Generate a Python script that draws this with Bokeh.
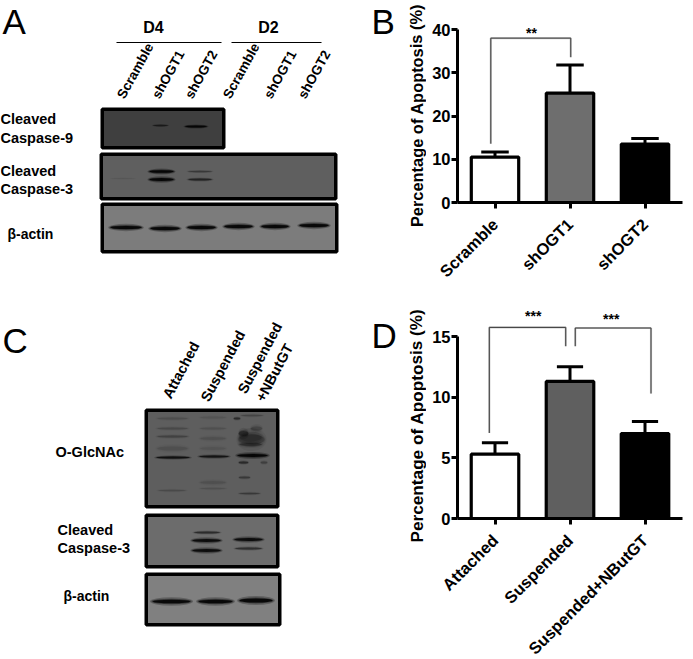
from math import radians
from bokeh.plotting import figure
from bokeh.layouts import row, column
from bokeh.models import Range1d, FixedTicker
from bokeh.core.properties import value
from bokeh.embed import file_html
from bokeh.resources import INLINE

FONT = "Liberation Sans"
SPLIT = 426  # left column width; the y titles and panel letters live in it

# ---- bar chart data ----
b_categories = ["Scramble", "shOGT1", "shOGT2"]
b_means = [10.5, 25.3, 13.5]
b_upper = [11.7, 31.8, 14.8]
b_colors = ["#ffffff", "#6e6e6e", "#000000"]
b_ticks = [0, 10, 20, 30, 40]

d_categories = ["Attached", "Suspended", "Suspended+NButGT"]
d_means = [5.3, 11.3, 7.0]
d_upper = [6.25, 12.5, 8.0]
d_colors = ["#ffffff", "#5f5f5f", "#000000"]
d_ticks = [0, 5, 10, 15]

y_title = "Percentage of Apoptosis (%)"

# ---- blot annotation text ----
a_lanes = ["Scramble", "shOGT1", "shOGT2", "Scramble", "shOGT1", "shOGT2"]
c_lanes = ["Attached", "Suspended", "Suspended", "+NButGT"]


def text(p, x, y, s, size, angle=0.0, align="left", bold=True):
    p.text([x], [y], text=[s], text_font=value(FONT), text_font_size=f"{size}px",
           text_font_style="bold" if bold else "normal", text_color="#000000",
           text_align=align, text_baseline="middle", angle=[radians(angle)])


def panel(p, x0, x1, y0, y1, fill, lw=3.5):
    p.quad(left=[x0 + lw / 2], right=[x1 - lw / 2], top=[y0 + lw / 2], bottom=[y1 - lw / 2],
           fill_color=fill, line_color="#000000", line_width=lw)


def band(p, x0, x1, y, h, dark, color="#000000"):
    """Soft blot band between x0..x1, centred on y, with darkness 0..1."""
    xc = (x0 + x1) / 2
    w = x1 - x0
    p.ellipse([xc], [y], width=[w * 1.08], height=[h * 2.3], fill_color=color,
              fill_alpha=dark * 0.25, line_color=None)
    p.ellipse([xc], [y], width=[w * 1.0], height=[h * 1.5], fill_color=color,
              fill_alpha=dark * 0.4, line_color=None)
    p.ellipse([xc], [y], width=[w * 0.94], height=[h], fill_color=color,
              fill_alpha=dark * 0.85, line_color=None)


def blot_fig(w, h, y_top):
    p = figure(width=w, height=h, x_range=Range1d(0, w), y_range=Range1d(y_top + h, y_top),
               output_backend="svg", toolbar_location=None, min_border=0)
    p.axis.visible = False
    p.grid.visible = False
    p.outline_line_color = None
    return p


def bar_fig(h, cats, means, upper, colors, ticks, ymax_axis, y_zero_px, x0_px, x1_px, y_origin):
    px_per = (y_zero_px - ymax_axis[1]) / ymax_axis[0]
    frame_top = y_origin + 3
    ymax = (y_zero_px - frame_top) / px_per
    p = figure(width=693 - SPLIT, height=h, x_range=Range1d(0, 3), y_range=Range1d(0, ymax),
               output_backend="svg", toolbar_location=None,
               min_border_left=x0_px - SPLIT, min_border_right=693 - x1_px,
               min_border_top=frame_top - y_origin, min_border_bottom=y_origin + h - y_zero_px)
    p.grid.visible = False
    p.outline_line_color = None
    xs = [i + 0.5 for i in range(len(cats))]
    unit_px = (x1_px - x0_px) / 3
    bw = (unit_px * 0.672 - 3) / unit_px
    cap = 27.5 / unit_px
    p.segment(xs, means, xs, upper, line_color="#000000", line_width=3)
    p.segment([x - cap / 2 for x in xs], upper, [x + cap / 2 for x in xs], upper,
              line_color="#000000", line_width=3)
    p.vbar(x=xs, top=means, bottom=0, width=bw, fill_color=colors, line_color="#000000",
           line_width=3.2)
    yax = p.yaxis[0]
    yax.ticker = FixedTicker(ticks=ticks)
    yax.bounds = (0, ticks[-1])
    xax = p.xaxis[0]
    xax.ticker = FixedTicker(ticks=xs)
    xax.major_label_overrides = {x: c for x, c in zip(xs, cats)}
    xax.major_label_orientation = radians(45)
    for ax in (xax, yax):
        ax.axis_line_width = 3
        ax.axis_line_color = "#000000"
        ax.major_tick_line_width = 3
        ax.major_tick_line_color = "#000000"
        ax.major_tick_out = 6
        ax.major_tick_in = 0
        ax.minor_tick_line_color = None
        ax.major_label_text_font = FONT
        ax.major_label_text_font_style = "bold"
        ax.major_label_text_font_size = "16.5px"
        ax.major_label_text_color = "#000000"
    xax.major_label_standoff = 13
    yax.major_label_standoff = 1
    return p


def bracket(p, x0, x1, level, y0, y1):
    p.line([x0, x0, x1, x1], [y0, level, level, y1], line_color="#c9c9c9", line_width=2.2)
    p.line([x0, x0, x1, x1], [y0, level, level, y1], line_color="#3a3a3a", line_width=1)


def stars(p, x, y, s):
    p.text([x], [y], text=[s], text_font=value(FONT), text_font_size="14px",
           text_font_style="bold", text_align="center", text_baseline="middle",
           text_color="#000000")


# ---------------- Panel A ----------------
A = blot_fig(SPLIT, 300, 0)
text(A, 2, 21, "A", 35, bold=False)
text(A, 153, 27, "D4", 16, align="center")
text(A, 268, 27, "D2", 16, align="center")
A.line([116, 221], [42, 42], line_color="#000000", line_width=1.2)
A.line([231, 321], [42, 42], line_color="#000000", line_width=1.2)
for x, s in zip([120, 155, 188, 226, 267, 301], a_lanes):
    text(A, x, 97, s, 13.5, angle=61)

text(A, 0, 118, "Cleaved", 14.5)
text(A, 0, 137, "Caspase-9", 14.5)
text(A, 0, 170, "Cleaved", 14.5)
text(A, 0, 188, "Caspase-3", 14.5)
text(A, 7, 233, "β-actin", 14)

panel(A, 100, 225, 107, 149, "#3f3f3f")
band(A, 152, 168, 125, 1.3, 0.5)
band(A, 184, 207, 126, 1.8, 0.95)

panel(A, 99, 337, 152, 200, "#5f5f5f")
band(A, 148, 174, 171, 2.6, 1.0)
band(A, 148, 174, 179, 2.8, 1.0)
band(A, 187, 212, 171, 1.4, 0.3)
band(A, 187, 212, 179, 1.8, 0.55)
band(A, 110, 135, 178, 1, 0.06)

panel(A, 100, 338, 202, 253, "#7c7c7c")
for x0, x1, y in [(109, 142, 227), (149, 180, 228), (186, 216, 227),
                  (223, 253, 226), (260, 289, 226), (298, 329, 225)]:
    band(A, x0, x1, y, 3.2, 1.0)

# y title and letter of panel B
text(A, 416, 115, y_title, 16.4, angle=90, align="center")
text(A, 371, 21, "B", 35, bold=False)

# ---------------- Panel C ----------------
C = blot_fig(SPLIT, 370, 300)
text(C, 2, 340, "C", 35, bold=False)
text(C, 166, 397, c_lanes[0], 14.5, angle=62)
text(C, 204, 400, c_lanes[1], 14.5, angle=62)
text(C, 241, 392, c_lanes[2], 14.5, angle=62)
text(C, 259, 400, c_lanes[3], 14.5, angle=62)
text(C, 55, 451, "O-GlcNAc", 14.5)
text(C, 57, 529, "Cleaved", 14.5)
text(C, 57, 547, "Caspase-3", 14.5)
text(C, 63, 595, "β-actin", 14)

panel(C, 144, 279, 408, 508, "#5e5e5e")
for x0, x1, y, h, d in [(156, 188, 418, 2, 0.12), (156, 188, 428, 2, 0.16), (156, 188, 436, 2, 0.22),
                        (156, 188, 448, 4, 0.1), (199, 226, 417, 2, 0.08), (199, 226, 428, 2, 0.1),
                        (199, 226, 438, 3, 0.1), (199, 226, 448, 3, 0.08), (157, 186, 490, 1.5, 0.15),
                        (199, 226, 482, 3, 0.1), (199, 226, 488, 1.5, 0.1),
                        (240, 263, 415, 1.5, 0.2), (233, 240, 418, 1.8, 0.45),
                        (237, 265, 439, 10, 0.25), (238, 262, 437, 8, 0.2),
                        (238, 248, 433, 5, 0.4), (250, 262, 428, 4, 0.2),
                        (238, 262, 444, 3, 0.3),
                        (238, 248, 462, 2, 0.45), (260, 267, 462, 2, 0.25), (238, 250, 477, 1.8, 0.3),
                        (238, 260, 493, 1.5, 0.3)]:
    band(C, x0, x1, y, h, d)
band(C, 155, 190, 457, 2, 0.8)
band(C, 198, 229, 456, 2, 0.75)
band(C, 236, 268, 455, 3, 1.0)

panel(C, 144, 279, 513, 568, "#6c6c6c")
band(C, 193, 220, 532, 1.8, 0.5)
band(C, 191, 221, 540, 2.8, 0.9)
band(C, 191, 221, 550, 2.8, 0.9)
band(C, 233, 263, 539, 2.8, 0.9)
band(C, 234, 262, 548, 2, 0.45)

panel(C, 144, 281, 572, 626, "#808080")
band(C, 151, 191, 601, 3.6, 1.0)
band(C, 197, 233, 601, 3.6, 1.0)
band(C, 238, 273, 600, 4, 1.0)

# y title and letter of panel D
text(C, 416, 425, y_title, 17.2, angle=90, align="center")
text(C, 371, 335, "D", 35, bold=False)

# ---------------- Panel B ----------------
B = bar_fig(300, b_categories, b_means, b_upper, b_colors, b_ticks, (40, 29), 202, 457, 682, 0)
bracket(B, 0.444, 1.51, 38, 13.6, 33.6)
stars(B, 0.985, 39.3, "**")

# ---------------- Panel D ----------------
D = bar_fig(370, d_categories, d_means, d_upper, d_colors, d_ticks, (15, 336), 518, 456, 692, 300)
bracket(D, 0.424, 1.443, 15.75, 7.05, 14.2)
bracket(D, 1.57, 2.58, 15.7, 14.2, 10.3)
stars(D, 1.01, 16.65, "***")
stars(D, 2.05, 16.45, "***")

layout = row(column(A, C, spacing=0), column(B, D, spacing=0), spacing=0, margin=(0, 0, 0, 0))
open("out.html", "w").write(file_html(layout, INLINE))
